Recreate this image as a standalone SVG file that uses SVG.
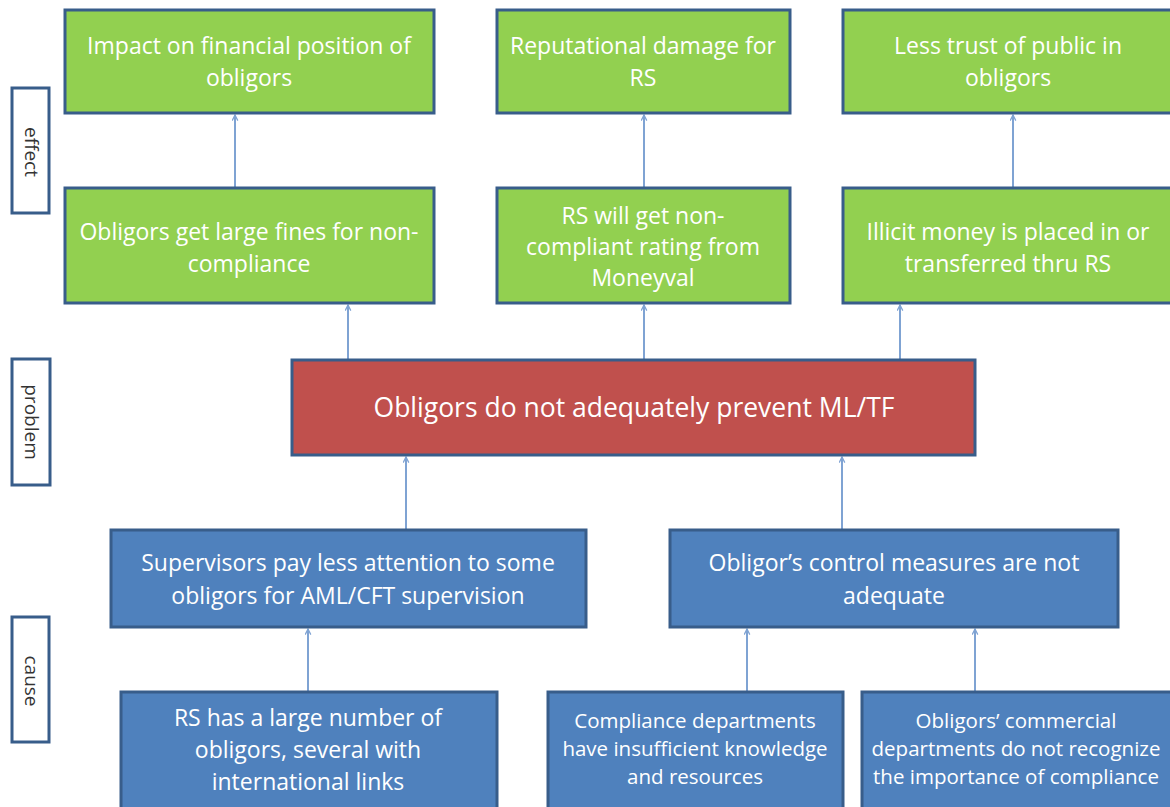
<svg xmlns="http://www.w3.org/2000/svg" width="1170" height="807" viewBox="0 0 1170 807">
<defs>
<style>
.g{fill:#92d050;stroke:#385d8a;stroke-width:3}
.r{fill:#c0504d;stroke:#385d8a;stroke-width:3}
.b{fill:#4f81bd;stroke:#385d8a;stroke-width:3}
.s{fill:#ffffff;stroke:#385d8a;stroke-width:3}
.t{font-family:"Open Sans","Liberation Sans",sans-serif;font-size:23px;fill:#ffffff;text-anchor:middle}
.tr{font-family:"Open Sans","Liberation Sans",sans-serif;font-size:26.5px;fill:#ffffff;text-anchor:middle}
.ts{font-family:"Open Sans","Liberation Sans",sans-serif;font-size:20.5px;fill:#ffffff;text-anchor:middle}
.l{font-family:"Open Sans","Liberation Sans",sans-serif;font-size:19px;fill:#333333;text-anchor:middle}
.c{stroke:#7fa3d3;stroke-width:2;fill:none;marker-end:url(#ah)}
</style>
<marker id="ah" viewBox="0 0 10 10" refX="9" refY="5" markerWidth="7" markerHeight="7" orient="auto" markerUnits="userSpaceOnUse">
<path d="M1,1 L9,5 L1,9" fill="none" stroke="#7fa3d3" stroke-width="1.8"/>
</marker>
</defs>
<rect width="1170" height="807" fill="#ffffff"/>

<g id="connectors">
<line class="c" x1="235" y1="188" x2="235" y2="115"/>
<line class="c" x1="644" y1="188" x2="644" y2="115"/>
<line class="c" x1="1013" y1="188" x2="1013" y2="115"/>
<line class="c" x1="348" y1="360" x2="348" y2="305"/>
<line class="c" x1="644" y1="360" x2="644" y2="305"/>
<line class="c" x1="900" y1="360" x2="900" y2="305"/>
<line class="c" x1="406" y1="530" x2="406" y2="457"/>
<line class="c" x1="842" y1="530" x2="842" y2="457"/>
<line class="c" x1="308" y1="692" x2="308" y2="629"/>
<line class="c" x1="747" y1="692" x2="747" y2="629"/>
<line class="c" x1="975" y1="692" x2="975" y2="629"/>
</g>

<g id="label-effect">
<rect class="s" x="12" y="88" width="37" height="125"/>
<text class="l" transform="translate(30.5,152) rotate(90)" dy="6">effect</text>
</g>
<g id="label-problem">
<rect class="s" x="12" y="359" width="38" height="126"/>
<text class="l" transform="translate(31,422) rotate(90)" dy="6">problem</text>
</g>
<g id="label-cause">
<rect class="s" x="12" y="617" width="37" height="125"/>
<text class="l" transform="translate(30.5,681) rotate(90)" dy="6">cause</text>
</g>

<g id="e1">
<rect class="g" x="65" y="10" width="369" height="103"/>
<text class="t" x="249" y="54">Impact on financial position of</text>
<text class="t" x="249" y="86">obligors</text>
</g>
<g id="e2">
<rect class="g" x="497" y="10" width="293" height="103"/>
<text class="t" x="643" y="54">Reputational damage for</text>
<text class="t" x="643" y="86">RS</text>
</g>
<g id="e3">
<rect class="g" x="843" y="10" width="335" height="103"/>
<text class="t" x="1008" y="54">Less trust of public in</text>
<text class="t" x="1008" y="86">obligors</text>
</g>

<g id="m1">
<rect class="g" x="65" y="188" width="369" height="115"/>
<text class="t" x="249" y="240">Obligors get large fines for non-</text>
<text class="t" x="249" y="272">compliance</text>
</g>
<g id="m2">
<rect class="g" x="497" y="188" width="293" height="115"/>
<text class="t" x="643" y="224">RS will get non-</text>
<text class="t" x="643" y="255">compliant rating from</text>
<text class="t" x="643" y="286">Moneyval</text>
</g>
<g id="m3">
<rect class="g" x="843" y="188" width="335" height="115"/>
<text class="t" x="1008" y="240">Illicit money is placed in or</text>
<text class="t" x="1008" y="272">transferred thru RS</text>
</g>

<g id="problem">
<rect class="r" x="292" y="360" width="683" height="95"/>
<text class="tr" x="634" y="417">Obligors do not adequately prevent ML/TF</text>
</g>

<g id="c1">
<rect class="b" x="111" y="530" width="475" height="97"/>
<text class="t" x="348" y="571">Supervisors pay less attention to some</text>
<text class="t" x="348" y="604">obligors for AML/CFT supervision</text>
</g>
<g id="c2">
<rect class="b" x="670" y="530" width="448" height="97"/>
<text class="t" x="894" y="571">Obligor’s control measures are not</text>
<text class="t" x="894" y="604">adequate</text>
</g>

<g id="b1">
<rect class="b" x="121" y="692" width="376" height="125"/>
<text class="t" x="308" y="726">RS has a large number of</text>
<text class="t" x="308" y="758">obligors, several with</text>
<text class="t" x="308" y="790">international links</text>
</g>
<g id="b2">
<rect class="b" x="548" y="692" width="295" height="125"/>
<text class="ts" x="695" y="728">Compliance departments</text>
<text class="ts" x="695" y="756">have insufficient knowledge</text>
<text class="ts" x="695" y="784">and resources</text>
</g>
<g id="b3">
<rect class="b" x="862" y="692" width="316" height="125"/>
<text class="ts" x="1016" y="728">Obligors’ commercial</text>
<text class="ts" x="1016" y="756">departments do not recognize</text>
<text class="ts" x="1016" y="784">the importance of compliance</text>
</g>
</svg>
